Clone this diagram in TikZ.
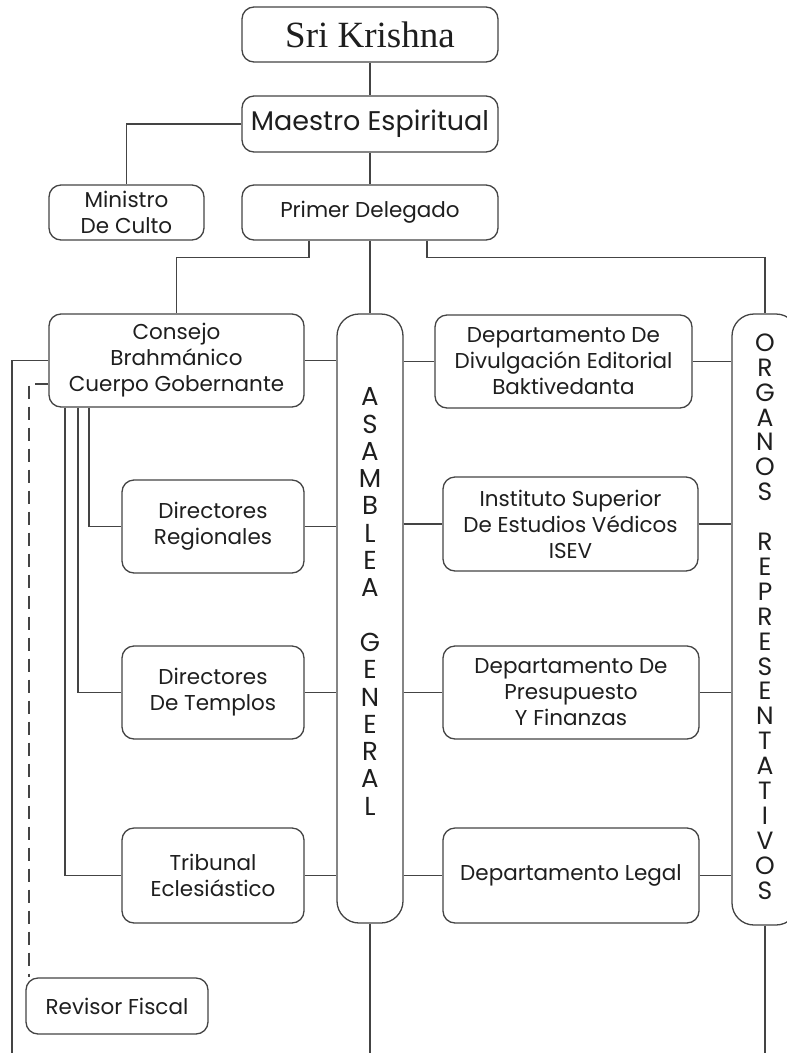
\documentclass[tikz,border=0pt]{standalone}
\usepackage{fontspec}
\setmainfont{Poppins}
\newfontfamily\krishnafont{Liberation Serif}
\usetikzlibrary{calc}
\definecolor{linegray}{HTML}{444444}
\definecolor{textgray}{HTML}{1E1E1E}

\begin{document}
\begin{tikzpicture}[x=1pt,y=-1pt,
        caja/.style={draw=linegray, line width=1.3pt, rounded corners=12pt, align=center, inner sep=0pt, text=textgray, font=\fontsize{21.5}{26}\selectfont},
        columna/.style={draw=linegray, line width=1.3pt, rounded corners=22pt, minimum width=66pt},
        letras/.style={align=center, inner sep=0pt, text=textgray, font=\fontsize{26}{27.3}\selectfont},
        linea/.style={draw=linegray, line width=1.3pt}]
        \useasboundingbox (0,0) rectangle (787,1053);

        % Cajas superiores
        \node[caja, minimum width=256pt, minimum height=55pt, font=\krishnafont\fontsize{37}{42}\selectfont] (SK) at (370,34.5) {Sri Krishna};
        \node[caja, minimum width=256pt, minimum height=56pt, font=\fontsize{27}{32}\selectfont] (ME) at (370,124) {Maestro Espiritual};
        \node[caja, minimum width=256pt, minimum height=55pt] (PD) at (370,212.5) {Primer Delegado};
        \node[caja, minimum width=155pt, minimum height=55pt] (MC) at (126.5,212.5) {Ministro\\De Culto};

        % Columnas
        \node[columna, minimum height=609pt] (AG) at (370,618.5) {};
        \node[columna, minimum height=611pt] (OR) at (765,619.5) {};
        \node[letras] (agtext) at (370,601.5) {A\\S\\A\\M\\B\\L\\E\\A\\[27.3pt]G\\E\\N\\E\\R\\A\\L};
        \node[letras, font=\fontsize{25}{24.9}\selectfont] (ortext) at (765,616.5) {O\\R\\G\\A\\N\\O\\S\\[24.9pt]R\\E\\P\\R\\E\\S\\E\\N\\T\\A\\T\\I\\V\\O\\S};

        % Lado izquierdo
        \node[caja, minimum width=255pt, minimum height=93pt] (CB) at (176.5,360.5) {Consejo\\Brahmánico\\Cuerpo Gobernante};
        \node[caja, minimum width=182pt, minimum height=93pt] (DR) at (213,526.5) {Directores\\Regionales};
        \node[caja, minimum width=182pt, minimum height=93pt] (DT) at (213,692.5) {Directores\\De Templos};
        \node[caja, minimum width=182pt, minimum height=95pt] (TE) at (213,875.5) {Tribunal\\Eclesiástico};
        \node[caja, minimum width=182pt, minimum height=56pt] (RF) at (117,1006) {Revisor Fiscal};

        % Lado derecho
        \node[caja, minimum width=257pt, minimum height=93pt] (DE) at (563.5,361.5) {Departamento De\\Divulgación Editorial\\Baktivedanta};
        \node[caja, minimum width=255pt, minimum height=94pt] (IS) at (570.5,524) {Instituto Superior\\De Estudios Védicos\\ISEV};
        \node[caja, minimum width=256pt, minimum height=93pt] (DP) at (571,692.5) {Departamento De\\Presupuesto\\Y Finanzas};
        \node[caja, minimum width=256pt, minimum height=95pt] (DL) at (571,875.5) {Departamento Legal};

        \coordinate (finL)  at (12,1053);
        \coordinate (finAG) at (370,1053);
        \coordinate (finOR) at (765,1053);

        % Conexiones
        \draw[linea] (SK) -- (ME);
        \draw[linea] (ME) -- (PD);
        \draw[linea] (ME.west) -| (MC.north);
        \draw[linea] ([xshift=-61pt]PD.south) -- ++(0,17) -| (CB.north);
        \draw[linea] (PD) -- (AG);
        \draw[linea] ([xshift=57pt]PD.south) -- ++(0,17) -| (OR.north);

        \draw[linea] (CB.east) -- (CB.east -| AG.west);
        \draw[linea] (AG.east |- DE.west) -- (DE.west);
        \draw[linea] (DE.east) -- (DE.east -| OR.west);

        \draw[linea] ([xshift=-87.5pt]CB.south)  |- (DR.west);
        \draw[linea] ([xshift=-98.5pt]CB.south)  |- (DT.west);
        \draw[linea] ([xshift=-111.5pt]CB.south) |- (TE.west);

        \draw[linea] (DR.east) -- (DR.east -| AG.west);
        \draw[linea] (AG.east |- IS.west) -- (IS.west);
        \draw[linea] (IS.east) -- (IS.east -| OR.west);
        \draw[linea] (DT.east) -- (DT.east -| AG.west);
        \draw[linea] (AG.east |- DP.west) -- (DP.west);
        \draw[linea] (DP.east) -- (DP.east -| OR.west);
        \draw[linea] (TE.east) -- (TE.east -| AG.west);
        \draw[linea] (AG.east |- DL.west) -- (DL.west);
        \draw[linea] (DL.east) -- (DL.east -| OR.west);

        \draw[linea] (CB.west) -| (finL);
        \draw[linea, dash pattern=on 13pt off 8pt] ([yshift=-23.5pt]CB.west) -| ([xshift=-88pt]RF.north);
        \draw[linea] (AG) -- (finAG);
        \draw[linea] (OR) -- (finOR);
    \end{tikzpicture}
\end{document}
